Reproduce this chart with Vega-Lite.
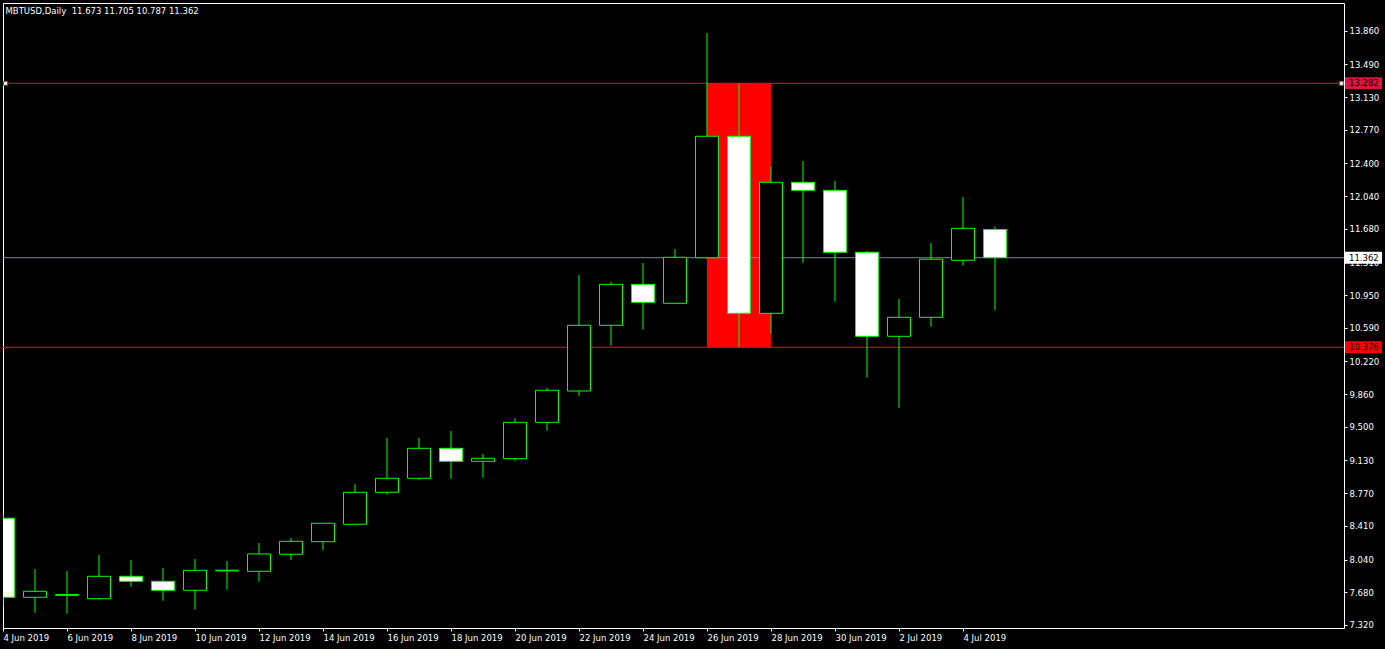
{
  "$schema": "https://vega.github.io/schema/vega-lite/v6.json",
  "width": 1341,
  "height": 625,
  "autosize": {"type": "none"},
  "padding": {"left": 3, "top": 3, "right": 41, "bottom": 21},
  "background": "#000000",
  "title": {
    "text": "MBTUSD,Daily\u00a0 11.673 11.705 10.787 11.362",
    "anchor": "start",
    "orient": "top",
    "offset": -12,
    "dx": 4,
    "baseline": "top",
    "font": "DejaVu Sans",
    "fontSize": 8.5,
    "fontWeight": "normal",
    "color": "#FFFFFF"
  },
  "datasets": {
    "ohlc": [
      {"date": "2019-06-04", "open": 8.494, "high": 8.538, "low": 7.531, "close": 7.624},
      {"date": "2019-06-05", "open": 7.624, "high": 7.935, "low": 7.454, "close": 7.690},
      {"date": "2019-06-06", "open": 7.645, "high": 7.913, "low": 7.443, "close": 7.655},
      {"date": "2019-06-07", "open": 7.608, "high": 8.090, "low": 7.600, "close": 7.855},
      {"date": "2019-06-08", "open": 7.855, "high": 8.035, "low": 7.741, "close": 7.800},
      {"date": "2019-06-09", "open": 7.800, "high": 7.946, "low": 7.586, "close": 7.701},
      {"date": "2019-06-10", "open": 7.701, "high": 8.046, "low": 7.487, "close": 7.921},
      {"date": "2019-06-11", "open": 7.914, "high": 8.023, "low": 7.708, "close": 7.922},
      {"date": "2019-06-12", "open": 7.910, "high": 8.222, "low": 7.796, "close": 8.101},
      {"date": "2019-06-13", "open": 8.098, "high": 8.277, "low": 8.035, "close": 8.240},
      {"date": "2019-06-14", "open": 8.236, "high": 8.441, "low": 8.145, "close": 8.439},
      {"date": "2019-06-15", "open": 8.428, "high": 8.868, "low": 8.426, "close": 8.780},
      {"date": "2019-06-16", "open": 8.780, "high": 9.378, "low": 8.753, "close": 8.934},
      {"date": "2019-06-17", "open": 8.934, "high": 9.378, "low": 8.918, "close": 9.264},
      {"date": "2019-06-18", "open": 9.264, "high": 9.455, "low": 8.929, "close": 9.121},
      {"date": "2019-06-19", "open": 9.121, "high": 9.201, "low": 8.940, "close": 9.154},
      {"date": "2019-06-20", "open": 9.150, "high": 9.594, "low": 9.128, "close": 9.550},
      {"date": "2019-06-21", "open": 9.550, "high": 9.928, "low": 9.458, "close": 9.903},
      {"date": "2019-06-22", "open": 9.895, "high": 11.172, "low": 9.843, "close": 10.618},
      {"date": "2019-06-23", "open": 10.618, "high": 11.095, "low": 10.394, "close": 11.069},
      {"date": "2019-06-24", "open": 11.069, "high": 11.304, "low": 10.570, "close": 10.871},
      {"date": "2019-06-25", "open": 10.860, "high": 11.458, "low": 10.856, "close": 11.367},
      {"date": "2019-06-26", "open": 11.362, "high": 13.836, "low": 11.356, "close": 12.699},
      {"date": "2019-06-27", "open": 12.699, "high": 13.274, "low": 10.383, "close": 10.750},
      {"date": "2019-06-28", "open": 10.750, "high": 12.372, "low": 10.526, "close": 12.192},
      {"date": "2019-06-29", "open": 12.192, "high": 12.427, "low": 11.307, "close": 12.104},
      {"date": "2019-06-30", "open": 12.104, "high": 12.207, "low": 10.878, "close": 11.422},
      {"date": "2019-07-01", "open": 11.422, "high": 11.436, "low": 10.041, "close": 10.497},
      {"date": "2019-07-02", "open": 10.497, "high": 10.908, "low": 9.711, "close": 10.706},
      {"date": "2019-07-03", "open": 10.706, "high": 11.524, "low": 10.603, "close": 11.345},
      {"date": "2019-07-04", "open": 11.334, "high": 12.030, "low": 11.274, "close": 11.686},
      {"date": "2019-07-05", "open": 11.673, "high": 11.705, "low": 10.787, "close": 11.362}
    ],
    "zone": [
      {"start": "2019-06-26", "end": "2019-06-28", "top": 13.282, "bottom": 10.376}
    ],
    "levels": [
      {"line": "upper", "price": 13.282},
      {"line": "bid", "price": 11.362},
      {"line": "lower", "price": 10.376}
    ]
  },
  "layer": [
    {
      "data": {"name": "zone"},
      "mark": {"type": "rect", "color": "#FF0000", "clip": true},
      "encoding": {
        "x": {"field": "start", "type": "temporal", "scale": {"type": "utc", "nice": false, "padding": 0, "domain": [{"year": 2019, "month": 6, "date": 4, "utc": true}, {"year": 2019, "month": 7, "date": 15, "hours": 21, "minutes": 45, "utc": true}]}, "axis": {
            "orient": "bottom",
            "values": [
              {"year": 2019, "month": 6, "date": 4, "utc": true},
              {"year": 2019, "month": 6, "date": 6, "utc": true},
              {"year": 2019, "month": 6, "date": 8, "utc": true},
              {"year": 2019, "month": 6, "date": 10, "utc": true},
              {"year": 2019, "month": 6, "date": 12, "utc": true},
              {"year": 2019, "month": 6, "date": 14, "utc": true},
              {"year": 2019, "month": 6, "date": 16, "utc": true},
              {"year": 2019, "month": 6, "date": 18, "utc": true},
              {"year": 2019, "month": 6, "date": 20, "utc": true},
              {"year": 2019, "month": 6, "date": 22, "utc": true},
              {"year": 2019, "month": 6, "date": 24, "utc": true},
              {"year": 2019, "month": 6, "date": 26, "utc": true},
              {"year": 2019, "month": 6, "date": 28, "utc": true},
              {"year": 2019, "month": 6, "date": 30, "utc": true},
              {"year": 2019, "month": 7, "date": 2, "utc": true},
              {"year": 2019, "month": 7, "date": 4, "utc": true}
            ],
            "labelExpr": "utcFormat(datum.value, '%-d %b %Y')",
            "domain": false,
            "grid": false,
            "tickColor": "#FFFFFF",
            "tickSize": 3,
            "tickWidth": 1,
            "labelColor": "#FFFFFF",
            "labelFont": "DejaVu Sans",
            "labelFontSize": 8.5,
            "labelAlign": "left",
            "labelBaseline": "top",
            "labelPadding": 2,
            "labelOverlap": false,
            "labelFlush": false,
            "labelBound": false,
            "title": null
          }},
        "x2": {"field": "end"},
        "y": {"field": "top", "type": "quantitative", "scale": {"domain": [7.286, 14.166], "nice": false, "zero": false, "padding": 0}, "axis": {
            "orient": "right",
            "values": [13.86, 13.49, 13.13, 12.77, 12.4, 12.04, 11.68, 11.31, 10.95, 10.59, 10.22, 9.86, 9.5, 9.13, 8.77, 8.41, 8.04, 7.68, 7.32],
            "format": ".3f",
            "domain": false,
            "grid": false,
            "tickColor": "#FFFFFF",
            "tickSize": 3,
            "tickWidth": 1,
            "labelColor": "#FFFFFF",
            "labelFont": "DejaVu Sans",
            "labelFontSize": 8.5,
            "labelAlign": "left",
            "labelBaseline": "middle",
            "labelPadding": 2,
            "labelOverlap": false,
            "labelFlush": false,
            "labelBound": false,
            "title": null
          }},
        "y2": {"field": "bottom"}
      }
    },
    {
      "data": {"name": "levels"},
      "mark": {"type": "rule", "strokeWidth": 1},
      "encoding": {
        "y": {"field": "price", "type": "quantitative", "scale": {"domain": [7.286, 14.166], "nice": false, "zero": false, "padding": 0}, "axis": {
            "orient": "right",
            "values": [13.86, 13.49, 13.13, 12.77, 12.4, 12.04, 11.68, 11.31, 10.95, 10.59, 10.22, 9.86, 9.5, 9.13, 8.77, 8.41, 8.04, 7.68, 7.32],
            "format": ".3f",
            "domain": false,
            "grid": false,
            "tickColor": "#FFFFFF",
            "tickSize": 3,
            "tickWidth": 1,
            "labelColor": "#FFFFFF",
            "labelFont": "DejaVu Sans",
            "labelFontSize": 8.5,
            "labelAlign": "left",
            "labelBaseline": "middle",
            "labelPadding": 2,
            "labelOverlap": false,
            "labelFlush": false,
            "labelBound": false,
            "title": null
          }},
        "stroke": {"field": "line", "type": "nominal", "scale": {"domain": ["upper", "bid", "lower"], "range": ["#DC143C", "#778899", "#FF0000"]}, "legend": null}
      }
    },
    {
      "data": {"name": "ohlc"},
      "mark": {"type": "rule", "color": "#00FF00", "strokeWidth": 1, "clip": true},
      "encoding": {
        "x": {
          "field": "date", "type": "temporal",
          "scale": {"type": "utc", "nice": false, "padding": 0, "domain": [{"year": 2019, "month": 6, "date": 4, "utc": true}, {"year": 2019, "month": 7, "date": 15, "hours": 21, "minutes": 45, "utc": true}]},
          "axis": {
            "orient": "bottom",
            "values": [
              {"year": 2019, "month": 6, "date": 4, "utc": true},
              {"year": 2019, "month": 6, "date": 6, "utc": true},
              {"year": 2019, "month": 6, "date": 8, "utc": true},
              {"year": 2019, "month": 6, "date": 10, "utc": true},
              {"year": 2019, "month": 6, "date": 12, "utc": true},
              {"year": 2019, "month": 6, "date": 14, "utc": true},
              {"year": 2019, "month": 6, "date": 16, "utc": true},
              {"year": 2019, "month": 6, "date": 18, "utc": true},
              {"year": 2019, "month": 6, "date": 20, "utc": true},
              {"year": 2019, "month": 6, "date": 22, "utc": true},
              {"year": 2019, "month": 6, "date": 24, "utc": true},
              {"year": 2019, "month": 6, "date": 26, "utc": true},
              {"year": 2019, "month": 6, "date": 28, "utc": true},
              {"year": 2019, "month": 6, "date": 30, "utc": true},
              {"year": 2019, "month": 7, "date": 2, "utc": true},
              {"year": 2019, "month": 7, "date": 4, "utc": true}
            ],
            "labelExpr": "utcFormat(datum.value, '%-d %b %Y')",
            "domain": false,
            "grid": false,
            "tickColor": "#FFFFFF",
            "tickSize": 3,
            "tickWidth": 1,
            "labelColor": "#FFFFFF",
            "labelFont": "DejaVu Sans",
            "labelFontSize": 8.5,
            "labelAlign": "left",
            "labelBaseline": "top",
            "labelPadding": 2,
            "labelOverlap": false,
            "labelFlush": false,
            "labelBound": false,
            "title": null
          }
        },
        "y": {
          "field": "low", "type": "quantitative",
          "scale": {"domain": [7.286, 14.166], "nice": false, "zero": false, "padding": 0},
          "axis": {
            "orient": "right",
            "values": [13.86, 13.49, 13.13, 12.77, 12.4, 12.04, 11.68, 11.31, 10.95, 10.59, 10.22, 9.86, 9.5, 9.13, 8.77, 8.41, 8.04, 7.68, 7.32],
            "format": ".3f",
            "domain": false,
            "grid": false,
            "tickColor": "#FFFFFF",
            "tickSize": 3,
            "tickWidth": 1,
            "labelColor": "#FFFFFF",
            "labelFont": "DejaVu Sans",
            "labelFontSize": 8.5,
            "labelAlign": "left",
            "labelBaseline": "middle",
            "labelPadding": 2,
            "labelOverlap": false,
            "labelFlush": false,
            "labelBound": false,
            "title": null
          }
        },
        "y2": {"field": "high"}
      }
    },
    {
      "data": {"name": "ohlc"},
      "mark": {"type": "bar", "size": 23, "stroke": "#00FF00", "strokeWidth": 1, "clip": true},
      "encoding": {
        "x": {"field": "date", "type": "temporal", "scale": {"type": "utc", "nice": false, "padding": 0, "domain": [{"year": 2019, "month": 6, "date": 4, "utc": true}, {"year": 2019, "month": 7, "date": 15, "hours": 21, "minutes": 45, "utc": true}]}, "axis": {
            "orient": "bottom",
            "values": [
              {"year": 2019, "month": 6, "date": 4, "utc": true},
              {"year": 2019, "month": 6, "date": 6, "utc": true},
              {"year": 2019, "month": 6, "date": 8, "utc": true},
              {"year": 2019, "month": 6, "date": 10, "utc": true},
              {"year": 2019, "month": 6, "date": 12, "utc": true},
              {"year": 2019, "month": 6, "date": 14, "utc": true},
              {"year": 2019, "month": 6, "date": 16, "utc": true},
              {"year": 2019, "month": 6, "date": 18, "utc": true},
              {"year": 2019, "month": 6, "date": 20, "utc": true},
              {"year": 2019, "month": 6, "date": 22, "utc": true},
              {"year": 2019, "month": 6, "date": 24, "utc": true},
              {"year": 2019, "month": 6, "date": 26, "utc": true},
              {"year": 2019, "month": 6, "date": 28, "utc": true},
              {"year": 2019, "month": 6, "date": 30, "utc": true},
              {"year": 2019, "month": 7, "date": 2, "utc": true},
              {"year": 2019, "month": 7, "date": 4, "utc": true}
            ],
            "labelExpr": "utcFormat(datum.value, '%-d %b %Y')",
            "domain": false,
            "grid": false,
            "tickColor": "#FFFFFF",
            "tickSize": 3,
            "tickWidth": 1,
            "labelColor": "#FFFFFF",
            "labelFont": "DejaVu Sans",
            "labelFontSize": 8.5,
            "labelAlign": "left",
            "labelBaseline": "top",
            "labelPadding": 2,
            "labelOverlap": false,
            "labelFlush": false,
            "labelBound": false,
            "title": null
          }},
        "y": {"field": "open", "type": "quantitative", "scale": {"domain": [7.286, 14.166], "nice": false, "zero": false, "padding": 0}, "axis": {
            "orient": "right",
            "values": [13.86, 13.49, 13.13, 12.77, 12.4, 12.04, 11.68, 11.31, 10.95, 10.59, 10.22, 9.86, 9.5, 9.13, 8.77, 8.41, 8.04, 7.68, 7.32],
            "format": ".3f",
            "domain": false,
            "grid": false,
            "tickColor": "#FFFFFF",
            "tickSize": 3,
            "tickWidth": 1,
            "labelColor": "#FFFFFF",
            "labelFont": "DejaVu Sans",
            "labelFontSize": 8.5,
            "labelAlign": "left",
            "labelBaseline": "middle",
            "labelPadding": 2,
            "labelOverlap": false,
            "labelFlush": false,
            "labelBound": false,
            "title": null
          }},
        "y2": {"field": "close"},
        "fill": {"condition": {"test": "datum.close < datum.open", "value": "#FFFFFF"}, "value": "#000000"}
      }
    },
    {
      "data": {"name": "levels"},
      "transform": [{"filter": "datum.line == 'upper'"}],
      "mark": {"type": "point", "shape": "square", "size": 16, "filled": true, "fill": "#FFFFFF", "stroke": "#DC143C", "strokeWidth": 1, "opacity": 1, "xOffset": 2.5},
      "encoding": {
        "x": {"value": 0},
        "y": {"field": "price", "type": "quantitative", "scale": {"domain": [7.286, 14.166], "nice": false, "zero": false, "padding": 0}, "axis": {
            "orient": "right",
            "values": [13.86, 13.49, 13.13, 12.77, 12.4, 12.04, 11.68, 11.31, 10.95, 10.59, 10.22, 9.86, 9.5, 9.13, 8.77, 8.41, 8.04, 7.68, 7.32],
            "format": ".3f",
            "domain": false,
            "grid": false,
            "tickColor": "#FFFFFF",
            "tickSize": 3,
            "tickWidth": 1,
            "labelColor": "#FFFFFF",
            "labelFont": "DejaVu Sans",
            "labelFontSize": 8.5,
            "labelAlign": "left",
            "labelBaseline": "middle",
            "labelPadding": 2,
            "labelOverlap": false,
            "labelFlush": false,
            "labelBound": false,
            "title": null
          }}
      }
    },
    {
      "data": {"name": "levels"},
      "transform": [{"filter": "datum.line == 'upper'"}],
      "mark": {"type": "point", "shape": "square", "size": 16, "filled": true, "fill": "#FFFFFF", "stroke": "#DC143C", "strokeWidth": 1, "opacity": 1, "xOffset": -2.5},
      "encoding": {
        "x": {"value": "width"},
        "y": {"field": "price", "type": "quantitative", "scale": {"domain": [7.286, 14.166], "nice": false, "zero": false, "padding": 0}, "axis": {
            "orient": "right",
            "values": [13.86, 13.49, 13.13, 12.77, 12.4, 12.04, 11.68, 11.31, 10.95, 10.59, 10.22, 9.86, 9.5, 9.13, 8.77, 8.41, 8.04, 7.68, 7.32],
            "format": ".3f",
            "domain": false,
            "grid": false,
            "tickColor": "#FFFFFF",
            "tickSize": 3,
            "tickWidth": 1,
            "labelColor": "#FFFFFF",
            "labelFont": "DejaVu Sans",
            "labelFontSize": 8.5,
            "labelAlign": "left",
            "labelBaseline": "middle",
            "labelPadding": 2,
            "labelOverlap": false,
            "labelFlush": false,
            "labelBound": false,
            "title": null
          }}
      }
    },
    {
      "data": {"name": "levels"},
      "mark": {"type": "rect", "xOffset": 1, "x2Offset": 38, "yOffset": -6, "y2Offset": 6},
      "encoding": {
        "x": {"value": "width"},
        "x2": {"value": "width"},
        "y": {"field": "price", "type": "quantitative", "scale": {"domain": [7.286, 14.166], "nice": false, "zero": false, "padding": 0}, "axis": {
            "orient": "right",
            "values": [13.86, 13.49, 13.13, 12.77, 12.4, 12.04, 11.68, 11.31, 10.95, 10.59, 10.22, 9.86, 9.5, 9.13, 8.77, 8.41, 8.04, 7.68, 7.32],
            "format": ".3f",
            "domain": false,
            "grid": false,
            "tickColor": "#FFFFFF",
            "tickSize": 3,
            "tickWidth": 1,
            "labelColor": "#FFFFFF",
            "labelFont": "DejaVu Sans",
            "labelFontSize": 8.5,
            "labelAlign": "left",
            "labelBaseline": "middle",
            "labelPadding": 2,
            "labelOverlap": false,
            "labelFlush": false,
            "labelBound": false,
            "title": null
          }},
        "y2": {"field": "price"},
        "fill": {"field": "line", "type": "nominal", "scale": {"domain": ["upper", "bid", "lower"], "range": ["#DC143C", "#FFFFFF", "#FF0000"]}, "legend": null}
      }
    },
    {
      "data": {"name": "levels"},
      "mark": {"type": "text", "align": "left", "baseline": "middle", "dx": 5, "font": "DejaVu Sans", "fontSize": 8.5, "color": "#000000"},
      "encoding": {
        "x": {"value": "width"},
        "y": {"field": "price", "type": "quantitative", "scale": {"domain": [7.286, 14.166], "nice": false, "zero": false, "padding": 0}, "axis": {
            "orient": "right",
            "values": [13.86, 13.49, 13.13, 12.77, 12.4, 12.04, 11.68, 11.31, 10.95, 10.59, 10.22, 9.86, 9.5, 9.13, 8.77, 8.41, 8.04, 7.68, 7.32],
            "format": ".3f",
            "domain": false,
            "grid": false,
            "tickColor": "#FFFFFF",
            "tickSize": 3,
            "tickWidth": 1,
            "labelColor": "#FFFFFF",
            "labelFont": "DejaVu Sans",
            "labelFontSize": 8.5,
            "labelAlign": "left",
            "labelBaseline": "middle",
            "labelPadding": 2,
            "labelOverlap": false,
            "labelFlush": false,
            "labelBound": false,
            "title": null
          }},
        "text": {"field": "price", "type": "quantitative", "format": ".3f"}
      }
    }
  ],
  "config": {
    "view": {"stroke": "#FFFFFF", "strokeWidth": 1, "fill": "#000000"}
  }
}
